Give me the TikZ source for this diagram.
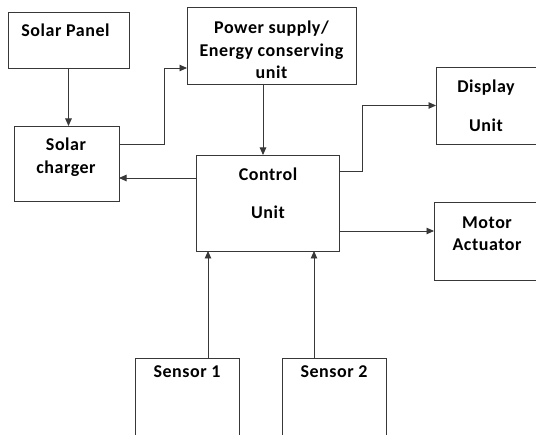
\documentclass[tikz,border=0pt]{standalone}
\usepackage{fontspec}
\setmainfont{Carlito}[LetterSpace=3]
\usetikzlibrary{arrows.meta}
\definecolor{ln}{HTML}{383838}
\tikzset{
  box/.style={draw=ln, line width=0.9pt, inner sep=0pt, outer sep=0pt, fill=none},
  lbl/.style={inner sep=0pt, outer sep=0pt, align=center, font=\fontsize{18}{22.5}\selectfont\bfseries},
  arr/.style={draw=ln, line width=0.9pt, -{Triangle[length=7.5pt,width=6.5pt]}}
}
\begin{document}
\begin{tikzpicture}[x=1pt,y=-1pt]
\useasboundingbox (0,0) rectangle (536,435);
\clip (0,0) rectangle (536,435);
\fill[white] (0,0) rectangle (536,435);
% boxes
\node[box, minimum width=121, minimum height=56] (sp) at (68.5,40) {};
\node[box, minimum width=105, minimum height=75] (sc) at (66.5,163.5) {};
\node[box, minimum width=169, minimum height=77] (ps) at (271.5,45.5) {};
\node[box, minimum width=143, minimum height=96] (cu) at (267.5,203) {};
\node[box, minimum width=124, minimum height=77] (du) at (498,105.5) {};
\node[box, minimum width=126, minimum height=78] (ma) at (497,241) {};
\node[box, minimum width=104, minimum height=102] (s1) at (187,409) {};
\node[box, minimum width=104, minimum height=102] (s2) at (334,409) {};
% labels
\node[lbl, anchor=base] (tsp) at (65.5,37) {Solar Panel};
\node[lbl] (tps) at (271.5,50) {Power supply/\\Energy conserving\\unit};
\node[lbl] (tsc) at (66,157) {Solar\\charger};
\node[lbl] (tcu) at (268,193.5) {Control\\[16pt]Unit};
\node[lbl] (tdu) at (486,106) {Display\\[16pt]Unit};
\node[lbl] (tma) at (487,233.5) {Motor\\Actuator};
\node[lbl, anchor=base] (ts1) at (187,378) {Sensor 1};
\node[lbl, anchor=base] (ts2) at (334,378) {Sensor 2};
% connectors
\draw[arr] (sp.south) -- (sp.south |- sc.north);
\draw[arr] ([yshift=19.5pt]sc.east) -- ++(45,0) |- ([yshift=-22.5pt]ps.west);
\draw[arr] ([xshift=-8.5pt]ps.south) -- ([xshift=-8.5pt]ps.south |- cu.north);
\draw[arr] ([yshift=25pt]cu.west) -- ([yshift=25pt]cu.west -| sc.east);
\draw[arr] ([yshift=32pt]cu.east) -- ++(23,0) |- (du.west);
\draw[arr] ([yshift=-28pt]cu.east) -- ([yshift=-28pt]cu.east -| ma.west);
\draw[arr] ([xshift=21pt]s1.north) -- ([xshift=21pt]s1.north |- cu.south);
\draw[arr] ([xshift=-20pt]s2.north) -- ([xshift=-20pt]s2.north |- cu.south);
\end{tikzpicture}
\end{document}
